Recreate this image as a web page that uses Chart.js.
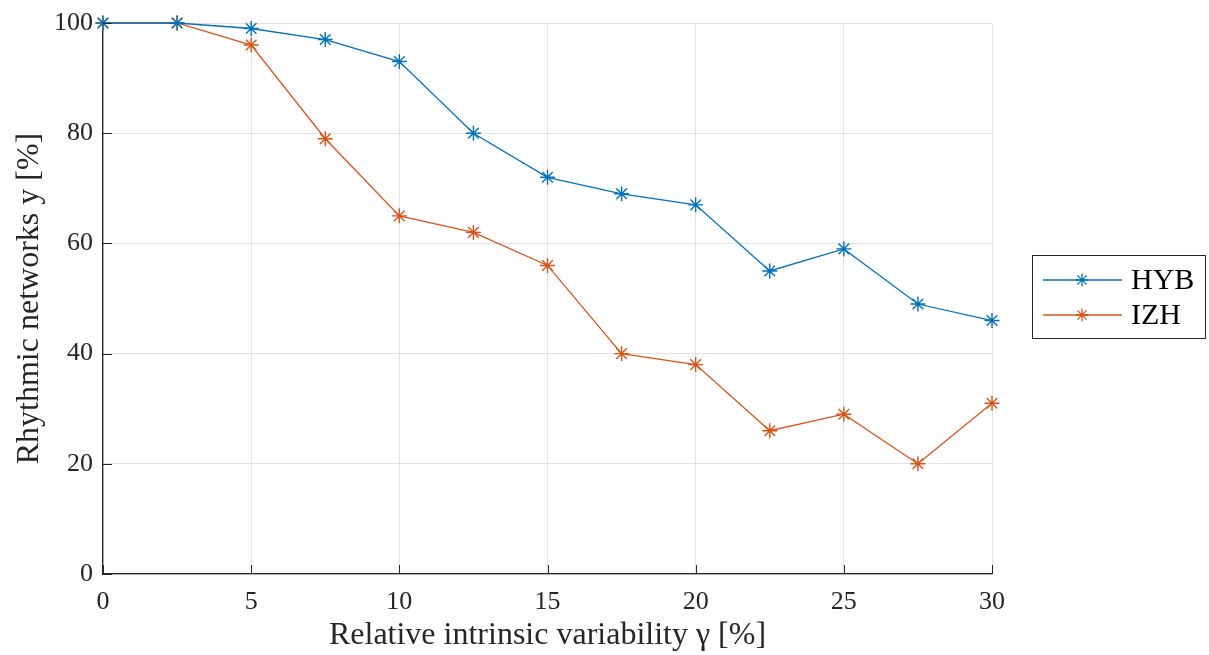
<!DOCTYPE html>
<html>
<head>
<meta charset="utf-8">
<script src="https://cdn.jsdelivr.net/npm/chart.js@4/dist/chart.umd.min.js"></script>
<style>
  html, body { margin: 0; padding: 0; background: #ffffff; }
  #wrap { width: 1209px; height: 655px; }
</style>
</head>
<body>
<div id="wrap"><canvas id="c" width="1209" height="655"></canvas></div>
<script>
const gammaValues = [0, 2.5, 5, 7.5, 10, 12.5, 15, 17.5, 20, 22.5, 25, 27.5, 30];
const hybValues = [100, 100, 99, 97, 93, 80, 72, 69, 67, 55, 59, 49, 46];
const izhValues = [100, 100, 96, 79, 65, 62, 56, 40, 38, 26, 29, 20, 31];
const xTicks = [0, 5, 10, 15, 20, 25, 30];
const yTicks = [0, 20, 40, 60, 80, 100];
const seriesNames = ['HYB', 'IZH'];
const xTitle = 'Relative intrinsic variability \u03B3 [%]';
const yTitle = 'Rhythmic networks y [%]';

const FONT = '"Liberation Serif", "DejaVu Serif", serif';
const BLUE = '#0072BD';
const ORANGE = '#D95319';

const toPts = (vals) => gammaValues.map((x, i) => ({ x: x, y: vals[i] }));

const innerTicks = {
  id: 'innerTicks',
  afterDatasetsDraw(chart) {
    const { ctx, chartArea: a, scales: { x, y } } = chart;
    ctx.save();
    ctx.strokeStyle = '#262626';
    ctx.lineWidth = 1;
    xTicks.forEach(v => {
      const px = Math.round(x.getPixelForValue(v)) + 0.5;
      ctx.beginPath(); ctx.moveTo(px, a.bottom); ctx.lineTo(px, a.bottom - 9); ctx.stroke();
    });
    yTicks.forEach(v => {
      const py = Math.round(y.getPixelForValue(v)) + 0.5;
      ctx.beginPath(); ctx.moveTo(a.left, py); ctx.lineTo(a.left + 9, py); ctx.stroke();
    });
    ctx.restore();
  }
};

const boxLegend = {
  id: 'boxLegend',
  afterDraw(chart) {
    const ctx = chart.ctx;
    const bx = 1032.5, by = 255.5, bw = 173, bh = 83;
    ctx.save();
    ctx.fillStyle = '#ffffff';
    ctx.fillRect(bx, by, bw, bh);
    ctx.strokeStyle = '#262626';
    ctx.lineWidth = 1;
    ctx.strokeRect(bx, by, bw, bh);
    const rows = [280, 315];
    chart.data.datasets.forEach((ds, i) => {
      const yy = rows[i];
      ctx.strokeStyle = ds.borderColor;
      ctx.lineWidth = 1.3;
      ctx.beginPath(); ctx.moveTo(1043, yy); ctx.lineTo(1122, yy); ctx.stroke();
      Chart.helpers.drawPoint(ctx, { pointStyle: 'star', radius: 6.5, borderWidth: 1.3 }, 1082, yy);
      ctx.fillStyle = '#000000';
      ctx.font = '30px ' + FONT;
      ctx.textBaseline = 'middle';
      ctx.textAlign = 'left';
      ctx.fillText(ds.label, 1131, yy + 1);
    });
    ctx.restore();
  }
};

new Chart(document.getElementById('c'), {
  type: 'line',
  data: {
    datasets: [
      { label: seriesNames[0], data: toPts(hybValues), borderColor: BLUE, backgroundColor: BLUE,
        borderWidth: 1.3, pointStyle: 'star', pointRadius: 7.5, pointBorderWidth: 1.4,
        pointBorderColor: BLUE, tension: 0, fill: false, clip: false },
      { label: seriesNames[1], data: toPts(izhValues), borderColor: ORANGE, backgroundColor: ORANGE,
        borderWidth: 1.3, pointStyle: 'star', pointRadius: 7.5, pointBorderWidth: 1.4,
        pointBorderColor: ORANGE, tension: 0, fill: false, clip: false }
    ]
  },
  options: {
    responsive: false,
    animation: false,
    devicePixelRatio: 1,
    layout: { padding: { top: 23, right: 217, left: 0, bottom: 0 } },
    plugins: { legend: { display: false }, tooltip: { enabled: false } },
    elements: { point: { hoverRadius: 7.5 } },
    scales: {
      x: {
        type: 'linear', min: 0, max: 30,
        afterBuildTicks: (s) => { s.ticks = xTicks.map(v => ({ value: v })); },
        afterFit: (s) => { s.height = 81; s.paddingLeft = 0; s.paddingRight = 0; },
        grid: { color: '#e3e3e3', lineWidth: 1, drawTicks: false },
        border: { color: '#262626', width: 1.3 },
        ticks: { color: '#262626', font: { family: FONT, size: 26 }, padding: 13, maxRotation: 0 },
        title: { display: true, text: xTitle, color: '#262626', font: { family: FONT, size: 32 }, padding: { top: 0, bottom: 0 } }
      },
      y: {
        type: 'linear', min: 0, max: 100,
        afterBuildTicks: (s) => { s.ticks = yTicks.map(v => ({ value: v })); },
        afterFit: (s) => { s.width = 103; s.paddingTop = 0; s.paddingBottom = 0; },
        grid: { color: '#e3e3e3', lineWidth: 1, drawTicks: false },
        border: { color: '#262626', width: 1.3 },
        ticks: { color: '#262626', font: { family: FONT, size: 26 }, padding: 10 },
        title: { display: true, text: yTitle, color: '#262626', font: { family: FONT, size: 32 }, padding: { top: 10, bottom: 0 } }
      }
    }
  },
  plugins: [innerTicks, boxLegend]
});
</script>
</body>
</html>
